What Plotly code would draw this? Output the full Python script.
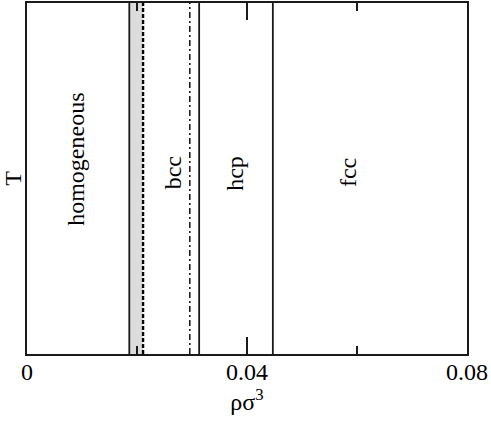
import plotly.graph_objects as go

# phase boundaries (rho sigma^3)
band_x = [0.0186, 0.0211]          # grey coexistence band
solid_lines = [0.0186, 0.0313, 0.0447]
dashed_lines = [0.0211]
dashdot_lines = [0.0296]

phase_labels = ["homogeneous", "bcc", "hcp", "fcc"]
phase_x = [0.0089, 0.02645, 0.0378, 0.0584]
phase_y = [0.556, 0.516, 0.516, 0.516]

x_tickvals = [0, 0.04, 0.08]
x_ticktext = ["0", "0.04", "0.08"]

FONT = "Times New Roman, Liberation Serif, serif"

fig = go.Figure()
# invisible trace to establish axes
fig.add_trace(go.Scatter(x=[0, 0.08], y=[0, 1], mode="markers",
                         marker=dict(opacity=0), showlegend=False, hoverinfo="skip"))

shapes = []
shapes.append(dict(type="rect", xref="x", yref="paper", x0=band_x[0], x1=band_x[1],
                   y0=0, y1=1, fillcolor="#dcdcdc", line=dict(width=0), layer="below"))
for xv in solid_lines:
    shapes.append(dict(type="line", xref="x", yref="paper", x0=xv, x1=xv, y0=0, y1=1,
                       line=dict(color="#1a1a1a", width=1.8)))
for xv in dashed_lines:
    shapes.append(dict(type="line", xref="x", yref="paper", x0=xv, x1=xv, y0=0, y1=1,
                       line=dict(color="#000", width=2.4, dash="4px,2px")))
for xv in dashdot_lines:
    shapes.append(dict(type="line", xref="x", yref="paper", x0=xv, x1=xv, y0=0, y1=1,
                       line=dict(color="#111", width=1.5, dash="6px,3px,2px,3px")))

annotations = []
for lab, xv, yv in zip(phase_labels, phase_x, phase_y):
    annotations.append(dict(text=lab, x=xv, y=yv, xref="x", yref="paper",
                            showarrow=False, textangle=-90,
                            font=dict(family=FONT, size=24, color="black")))

fig.update_layout(
    width=491, height=424,
    margin=dict(l=27, r=24, t=3, b=70, autoexpand=False),
    plot_bgcolor="white", paper_bgcolor="white",
    shapes=shapes, annotations=annotations,
    showlegend=False,
    font=dict(family=FONT, size=24, color="black"),
)
fig.update_xaxes(range=[0, 0.08], tickvals=x_tickvals, ticktext=x_ticktext,
                 ticks="inside", ticklen=17, tickwidth=1.6, tickcolor="#1a1a1a",
                 minor=dict(dtick=0.02, ticks="inside", ticklen=8, tickwidth=1.6, tickcolor="#1a1a1a"),
                 showline=True, linecolor="#1a1a1a", linewidth=1.6, mirror="ticks",
                 showgrid=False, zeroline=False, automargin=False,
                 ticklabelstandoff=-5,
                 tickfont=dict(family=FONT, size=24, color="black"),
                 title=dict(text="ρσ<sup>3</sup>", font=dict(family=FONT, size=24, color="black"), standoff=2))
fig.update_yaxes(range=[0, 1], showticklabels=False, ticks="",
                 showline=True, linecolor="#1a1a1a", linewidth=1.6, mirror=True,
                 showgrid=False, zeroline=False, automargin=False,
                 title=dict(text="T", font=dict(family=FONT, size=24, color="black"), standoff=2))

fig.write_html("out.html", config={"displayModeBar": False},
               post_script="document.body.style.margin='0';document.body.style.padding='0';")
